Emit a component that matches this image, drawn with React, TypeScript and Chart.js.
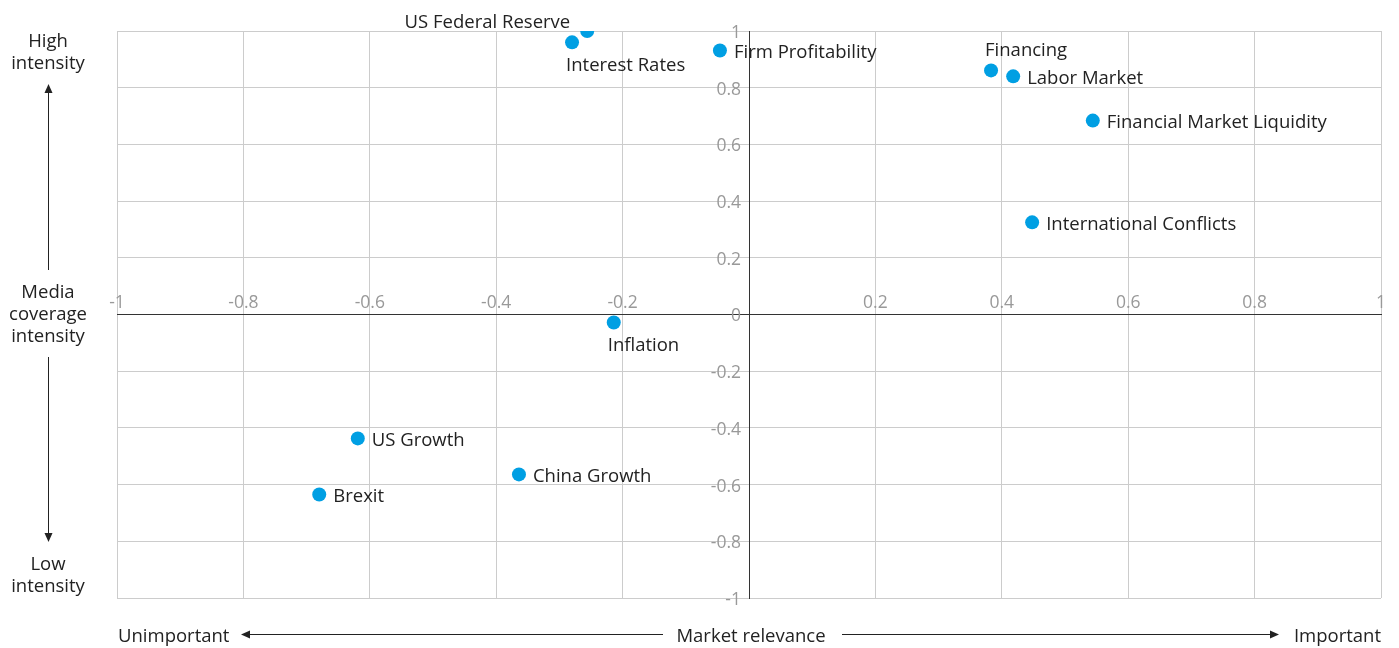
import React, { useEffect, useRef } from "react";
import { Chart, registerables } from "chart.js";

Chart.register(...registerables);

const topics = [
  "US Federal Reserve",
  "Interest Rates",
  "Firm Profitability",
  "Financing",
  "Labor Market",
  "Financial Market Liquidity",
  "International Conflicts",
  "Inflation",
  "US Growth",
  "China Growth",
  "Brexit",
];
const marketRelevance = [-0.256, -0.28, -0.046, 0.383, 0.418, 0.544, 0.448, -0.214, -0.619, -0.364, -0.68];
const mediaIntensity = [1.0, 0.96, 0.931, 0.861, 0.84, 0.684, 0.325, -0.028, -0.437, -0.564, -0.635];
const labelPlacement = ["leftAbove", "below", "right", "above", "right", "right", "right", "below", "right", "right", "right"];
const xTickValues = [-1, -0.8, -0.6, -0.4, -0.2, 0.2, 0.4, 0.6, 0.8, 1];
const yTickValues = [1, 0.8, 0.6, 0.4, 0.2, 0, -0.2, -0.4, -0.6, -0.8, -1];

const FONT = '"Open Sans", "Noto Sans", sans-serif';
const BLUE = "#009fe3";

function fmt(v: number) {
  return String(Math.round(v * 10) / 10);
}

const annotations = {
  id: "annotations",
  afterDatasetsDraw(chart: any) {
    const ctx = chart.ctx;
    const xs = chart.scales.x;
    const ys = chart.scales.y;
    const zeroX = xs.getPixelForValue(0);
    const zeroY = ys.getPixelForValue(0);
    ctx.save();
    // tick labels
    ctx.font = `17.5px ${FONT}`;
    ctx.fillStyle = "#999";
    ctx.textAlign = "center";
    ctx.textBaseline = "alphabetic";
    xTickValues.forEach((v) => {
      ctx.fillText(fmt(v), xs.getPixelForValue(v), zeroY - 7);
    });
    ctx.textAlign = "right";
    ctx.textBaseline = "middle";
    yTickValues.forEach((v) => {
      ctx.fillText(fmt(v), zeroX - 8, ys.getPixelForValue(v) + 2);
    });

    // point labels
    ctx.font = `18.5px ${FONT}`;
    ctx.fillStyle = "#222";
    const meta = chart.getDatasetMeta(0);
    meta.data.forEach((pt: any, i: number) => {
      const p = labelPlacement[i];
      const px = pt.x;
      const py = pt.y;
      ctx.textBaseline = "middle";
      if (p === "right") {
        ctx.textAlign = "left";
        ctx.fillText(topics[i], px + 14, py + 2);
      } else if (p === "leftAbove") {
        ctx.textAlign = "right";
        ctx.fillText(topics[i], px - 17, py - 8);
      } else if (p === "below") {
        ctx.textAlign = "left";
        ctx.fillText(topics[i], px - 6, py + 23);
      } else if (p === "above") {
        ctx.textAlign = "left";
        ctx.fillText(topics[i], px - 6, py - 20);
      }
    });

    // side annotations
    const ca = chart.chartArea;
    ctx.fillStyle = "#222";
    ctx.strokeStyle = "#222";
    ctx.lineWidth = 1;
    ctx.textAlign = "center";
    ctx.textBaseline = "middle";
    const cx = 48;
    ctx.fillText("High", cx, 42);
    ctx.fillText("intensity", cx, 64);
    ctx.fillText("Media", cx, 293);
    ctx.fillText("coverage", cx, 315);
    ctx.fillText("intensity", cx, 337);
    ctx.fillText("Low", cx, 565);
    ctx.fillText("intensity", cx, 587);

    const line = (x1: number, y1: number, x2: number, y2: number) => {
      ctx.beginPath();
      ctx.moveTo(x1, y1);
      ctx.lineTo(x2, y2);
      ctx.stroke();
    };
    const tri = (pts: number[][]) => {
      ctx.beginPath();
      ctx.moveTo(pts[0][0], pts[0][1]);
      ctx.lineTo(pts[1][0], pts[1][1]);
      ctx.lineTo(pts[2][0], pts[2][1]);
      ctx.closePath();
      ctx.fill();
    };
    // vertical arrows
    line(cx + 0.5, 90, cx + 0.5, 270);
    tri([[cx + 0.5, 84], [cx - 3.5, 93], [cx + 4.5, 93]]);
    line(cx + 0.5, 357, cx + 0.5, 536);
    tri([[cx + 0.5, 542], [cx - 3.5, 533], [cx + 4.5, 533]]);

    // bottom
    const by = 637;
    ctx.textAlign = "left";
    ctx.fillText("Unimportant", ca.left + 1, by);
    ctx.textAlign = "center";
    ctx.fillText("Market relevance", zeroX + 2, by);
    ctx.textAlign = "right";
    ctx.fillText("Important", ca.right, by);
    const ay = 634.5;
    line(247, ay, 663, ay);
    tri([[241, ay], [250, ay - 4], [250, ay + 4]]);
    line(842, ay, 1273, ay);
    tri([[1279, ay], [1270, ay - 4], [1270, ay + 4]]);
    ctx.restore();
  },
};

export default function App() {
  const ref = useRef<HTMLCanvasElement | null>(null);
  useEffect(() => {
    if (!ref.current) return;
    const chart = new Chart(ref.current, {
      type: "scatter",
      data: {
        datasets: [
          {
            label: "Topics",
            data: marketRelevance.map((x, i) => ({ x, y: mediaIntensity[i] })),
            backgroundColor: BLUE,
            borderColor: BLUE,
            pointRadius: 7,
            pointHoverRadius: 7,
            borderWidth: 0,
          },
        ],
      },
      options: {
        animation: false,
        responsive: true,
        maintainAspectRatio: false,
        layout: { padding: { left: 117, top: 31, right: 18, bottom: 50 }, autoPadding: false },
        plugins: { legend: { display: false }, tooltip: { enabled: false } },
        scales: {
          x: {
            type: "linear",
            min: -1,
            max: 1,
            position: { y: 0 } as any,
            ticks: { display: false, stepSize: 0.2 },
            grid: {
              drawTicks: false,
              color: (c: any) => (c.tick && Math.abs(c.tick.value) < 1e-9 ? "#333" : "#cccccc"),
              lineWidth: 1,
            },
            border: { display: true, color: "#333" },
          },
          y: {
            type: "linear",
            min: -1,
            max: 1,
            position: { x: 0 } as any,
            ticks: { display: false, stepSize: 0.2 },
            grid: {
              drawTicks: false,
              color: (c: any) => (c.tick && Math.abs(c.tick.value) < 1e-9 ? "#333" : "#cccccc"),
              lineWidth: 1,
            },
            border: { display: true, color: "#333" },
          },
        },
      },
      plugins: [annotations],
    });
    return () => chart.destroy();
  }, []);
  return (
    <div style={{ position: "fixed", left: 0, top: 0, width: 1399, height: 648, background: "#fff" }}>
      <canvas ref={ref} />
    </div>
  );
}
